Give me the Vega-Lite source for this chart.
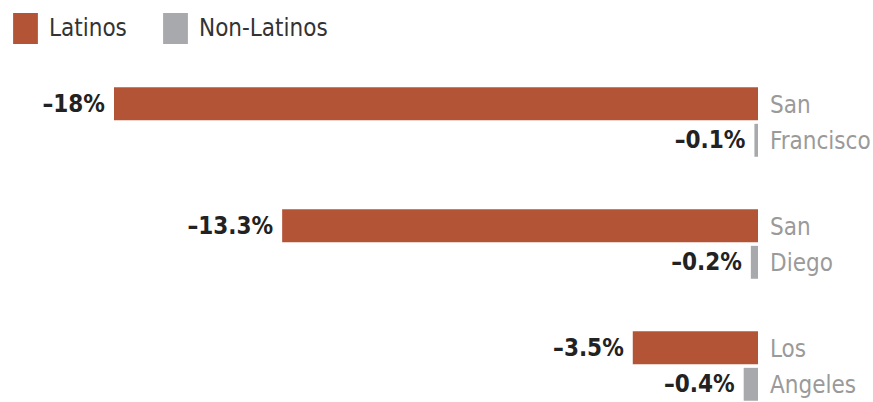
{
  "$schema": "https://vega.github.io/schema/vega-lite/v6.json",
  "width": 873,
  "height": 402,
  "padding": 0,
  "autosize": {"type": "none"},
  "background": "white",
  "config": {"view": {"stroke": null}, "font": "DejaVu Sans Condensed"},
  "data": {"values": [
    {"city": "San Francisco", "group": "Latinos", "value": -18, "label": "–18%", "line": "San"},
    {"city": "San Francisco", "group": "Non-Latinos", "value": -0.1, "label": "–0.1%", "line": "Francisco"},
    {"city": "San Diego", "group": "Latinos", "value": -13.3, "label": "–13.3%", "line": "San"},
    {"city": "San Diego", "group": "Non-Latinos", "value": -0.2, "label": "–0.2%", "line": "Diego"},
    {"city": "Los Angeles", "group": "Latinos", "value": -3.5, "label": "–3.5%", "line": "Los"},
    {"city": "Los Angeles", "group": "Non-Latinos", "value": -0.4, "label": "–0.4%", "line": "Angeles"}
  ]},
  "encoding": {
    "y": {"field": "city", "type": "nominal", "sort": ["San Francisco", "San Diego", "Los Angeles"],
          "scale": {"range": [61, 427], "paddingInner": 0.43, "paddingOuter": 0.215}, "axis": null},
    "yOffset": {"field": "group", "type": "nominal", "sort": ["Latinos", "Non-Latinos"],
                "scale": {"paddingInner": 0.1, "paddingOuter": 0}}
  },
  "layer": [
    {
      "mark": {"type": "bar"},
      "encoding": {
        "x": {"field": "value", "type": "quantitative", "scale": {"domain": [-18, 0], "range": [114, 758], "nice": false, "zero": false}, "axis": null},
        "color": {"field": "group", "type": "nominal",
                  "scale": {"domain": ["Latinos", "Non-Latinos"], "range": ["#b45437", "#a7a9ac"]},
                  "legend": {"orient": "none", "legendX": 10, "legendY": 13, "direction": "horizontal", "title": null,
                             "symbolType": "M-0.8,-1H0.8V1H-0.8Z", "symbolSize": 961, "symbolStrokeWidth": 0, "symbolOpacity": 1,
                             "labelFont": "DejaVu Sans Condensed", "labelFontSize": 24, "labelColor": "#333333",
                             "labelOffset": 8, "columnPadding": 33}}
      }
    },
    {
      "mark": {"type": "text", "align": "right", "baseline": "middle", "dx": -9, "dy": 1, "fontSize": 24, "fontWeight": "bold", "color": "#222222"},
      "encoding": {
        "x": {"field": "value", "type": "quantitative"},
        "text": {"field": "label"}
      }
    },
    {
      "mark": {"type": "text", "align": "left", "baseline": "middle", "dx": 12, "dy": 2, "fontSize": 24, "color": "#9a9a9a"},
      "encoding": {
        "x": {"datum": 0, "type": "quantitative"},
        "text": {"field": "line"}
      }
    }
  ]
}
